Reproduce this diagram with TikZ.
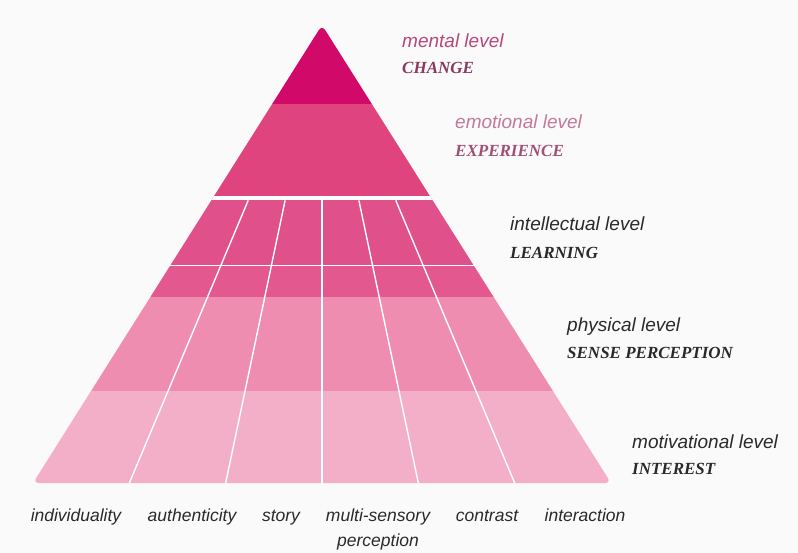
\documentclass[tikz,border=0pt]{standalone}
\usepackage{fontspec}
\setmainfont{Liberation Serif}
\setsansfont{Liberation Sans}
\usetikzlibrary{calc,positioning}
\definecolor{bgc}{HTML}{FAFAFA}
\definecolor{mentalc}{HTML}{D10A6A}
\definecolor{emotc}{HTML}{E0447F}
\definecolor{intc}{HTML}{E0508A}
\definecolor{thinc}{HTML}{E2588F}
\definecolor{physc}{HTML}{EE8DB0}
\definecolor{motc}{HTML}{F3AFC7}
\definecolor{textc}{HTML}{2A2A2A}
\definecolor{mentaltc}{HTML}{B5487A}
\definecolor{changetc}{HTML}{8A3A60}
\definecolor{emottc}{HTML}{C27A98}
\definecolor{exptc}{HTML}{A05075}

\begin{document}
\begin{tikzpicture}[x=1pt,y=-1pt,
  lvl/.style={anchor=base west,inner sep=0pt,text=textc,
    font=\fontsize{19}{22}\selectfont\sffamily\itshape},
  word/.style={anchor=base west,inner sep=0pt,text=textc,
    font=\fontsize{17}{22}\selectfont\bfseries\itshape},
  col/.style={anchor=base,inner sep=0pt,align=center,text=textc,
    font=\fontsize{17.5}{25}\selectfont\sffamily\itshape},
  divline/.style={draw=white,line width=1.4pt}]
  \fill[bgc] (0,0) rectangle (798,553);
  \coordinate (apex) at (322,25);
  \coordinate (bl) at (33,483);
  \coordinate (br) at (611,483);
  % pyramid bands
  \begin{scope}
    \clip[rounded corners=6pt] (apex) -- (bl) -- (br) -- cycle;
    \fill[mentalc] (0,20) rectangle (798,104);
    \fill[emotc] (0,104) rectangle (798,198);
    \fill[intc] (0,198) rectangle (798,266);
    \fill[thinc] (0,266) rectangle (798,297);
    \fill[physc] (0,297) rectangle (798,391);
    \fill[motc] (0,391) rectangle (798,490);
    \draw[white,line width=3.5pt] (0,198) -- (798,198);
    \draw[white,line width=1.6pt] (0,265.5) -- (798,265.5);
    \foreach \k in {1,...,5}{
      \coordinate (b\k) at ($(bl)!\k/6!(br)$);
      \draw[divline] ($(apex)!0.383!(b\k)$) -- (b\k);
    }
  \end{scope}
  % levels
  \node[lvl,text=mentaltc] (mental) at (402,48) {mental level};
  \node[word,text=changetc,below=26pt of mental.base west,anchor=base west] (change) {CHANGE};
  \node[lvl,text=emottc] (emot) at (455,129) {emotional level};
  \node[word,text=exptc,below=28pt of emot.base west,anchor=base west] (exp) {EXPERIENCE};
  \node[lvl] (intel) at (510,231) {intellectual level};
  \node[word,below=28pt of intel.base west,anchor=base west] (learn) {LEARNING};
  \node[lvl] (phys) at (567,332) {physical level};
  \node[word,below=27pt of phys.base west,anchor=base west] (sense) {SENSE PERCEPTION};
  \node[lvl] (motiv) at (632,448) {motivational level};
  \node[word,below=26pt of motiv.base west,anchor=base west] (interest) {INTEREST};
  % columns
  \node[col] (indiv) at (76,521) {individuality};
  \node[col] (auth) at (192,521) {authenticity};
  \node[col] (story) at (281,521) {story};
  \node[col] (multi) at (378,546) {multi-sensory\\perception};
  \node[col] (contr) at (487,521) {contrast};
  \node[col] (inter) at (585,521) {interaction};
\end{tikzpicture}
\end{document}
